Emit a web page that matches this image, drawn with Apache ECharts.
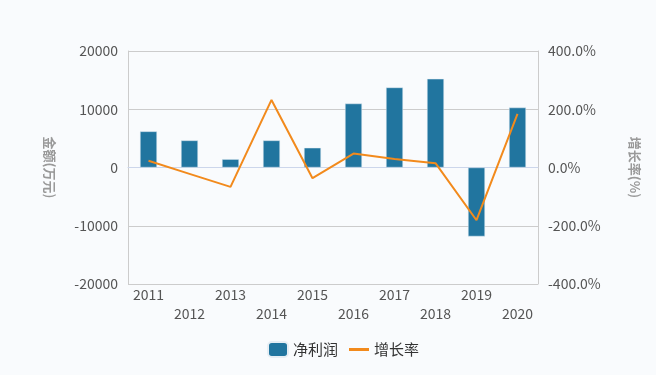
<!DOCTYPE html>
<html><head><meta charset="utf-8">
<script src="https://cdn.jsdelivr.net/npm/echarts@6/dist/echarts.min.js"></script>
<style>html,body{margin:0;padding:0;background:#f9fbfd;}#c{width:656px;height:375px;}</style>
</head><body><div id="c"></div>
<script>
var categories = ['2011','2012','2013','2014','2015','2016','2017','2018','2019','2020'];
var netProfit = [6200, 4650, 1430, 4650, 3390, 10980, 13740, 15230, -11840, 10290];
var growthRate = [23, -22, -66.6, 232, -36.7, 48, 29, 15, -181, 184];
var leftTicks = {min: -20000, max: 20000, interval: 10000};
var rightTicks = {min: -400, max: 400, interval: 200};

var font = '"Noto Sans CJK SC", "Noto Sans", sans-serif';
var chart = echarts.init(document.getElementById('c'));
chart.setOption({
  backgroundColor: '#f9fbfd',
  animation: false,
  textStyle: {fontFamily: font},
  grid: {left: 128, right: 118, top: 51, bottom: 91},
  legend: {
    top: 341, left: 267, padding: 0, itemWidth: 20, itemHeight: 15, itemGap: 11,
    textStyle: {fontFamily: font, fontSize: 15, color: '#333'},
    data: [
      {name: '净利润', icon: 'roundRect'},
      {name: '增长率', icon: 'path://M0,0 L20,0 L20,3 L0,3 Z'}
    ]
  },
  xAxis: {
    type: 'category', data: categories,
    axisLine: {lineStyle: {color: '#ccd6eb'}},
    axisTick: {alignWithLabel: false, length: 6, lineStyle: {color: '#ccd6eb'}},
    axisLabel: {interval: 0, color: '#555', fontSize: 14, margin: 1, lineHeight: 19,
      formatter: function (v, i) { return i % 2 === 1 ? '\n' + v : v; }}
  },
  yAxis: [{
    type: 'value', min: leftTicks.min, max: leftTicks.max, interval: leftTicks.interval,
    name: '金额(万元)', nameLocation: 'middle', nameRotate: -90, nameGap: 72,
    nameTextStyle: {color: '#999', fontSize: 13, fontWeight: 'bold'},
    axisLine: {show: true, lineStyle: {color: '#ccc'}},
    axisTick: {show: false},
    axisLabel: {color: '#555', fontSize: 14, margin: 10,
      formatter: function (v) { return String(v); }},
    splitLine: {lineStyle: {color: '#ccc'}}
  }, {
    type: 'value', min: rightTicks.min, max: rightTicks.max, interval: rightTicks.interval,
    name: '增长率(%)', nameLocation: 'middle', nameRotate: -90, nameGap: 90,
    nameTextStyle: {color: '#999', fontSize: 13, fontWeight: 'bold'},
    axisLine: {show: true, lineStyle: {color: '#ccc'}},
    axisTick: {show: false},
    axisLabel: {color: '#555', fontSize: 14, margin: 10,
      formatter: function (v) { return v.toFixed(1) + '%'; }},
    splitLine: {show: false}
  }],
  series: [{
    name: '净利润', type: 'bar', data: netProfit, barWidth: 17,
    itemStyle: {color: '#21759f', borderColor: '#e6eef4', borderWidth: 0.5}
  }, {
    name: '增长率', type: 'line', yAxisIndex: 1, data: growthRate,
    symbol: 'none', lineStyle: {color: '#f28a1c', width: 2},
    itemStyle: {color: '#f28a1c'}
  }]
});
</script></body></html>
